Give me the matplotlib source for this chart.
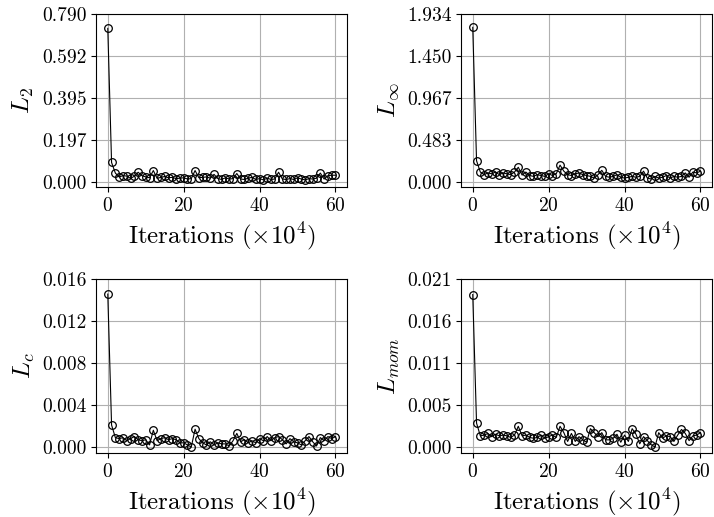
import numpy as np
import matplotlib
matplotlib.use("Agg")
import matplotlib.pyplot as plt
from matplotlib.ticker import FormatStrFormatter

# ── Dados (leitura aproximada da figura) ────────────────────
iteracoes = list(range(61))

l2 = [0.722, 0.090, 0.040, 0.022, 0.028, 0.026, 0.015, 0.025, 0.044, 0.028,
      0.022, 0.018, 0.052, 0.015, 0.020, 0.024, 0.018, 0.020, 0.014, 0.016,
      0.018, 0.012, 0.014, 0.052, 0.018, 0.020, 0.022, 0.016, 0.034, 0.014,
      0.010, 0.018, 0.012, 0.014, 0.038, 0.012, 0.010, 0.016, 0.020, 0.010,
      0.014, 0.008, 0.016, 0.010, 0.012, 0.044, 0.012, 0.010, 0.014, 0.010,
      0.018, 0.012, 0.008, 0.014, 0.012, 0.016, 0.040, 0.012, 0.028, 0.030,
      0.030]

linf = [1.78, 0.24, 0.11, 0.08, 0.10, 0.09, 0.11, 0.08, 0.10, 0.09,
        0.08, 0.11, 0.165, 0.075, 0.11, 0.07, 0.06, 0.08, 0.07, 0.06,
        0.09, 0.07, 0.09, 0.19, 0.12, 0.08, 0.07, 0.09, 0.10, 0.08,
        0.07, 0.06, 0.04, 0.08, 0.13, 0.06, 0.05, 0.06, 0.08, 0.05,
        0.04, 0.05, 0.06, 0.05, 0.06, 0.12, 0.04, 0.03, 0.06, 0.04,
        0.05, 0.07, 0.04, 0.06, 0.05, 0.06, 0.10, 0.05, 0.11, 0.10,
        0.12]

lc = [0.0146, 0.0021, 0.0009, 0.0008, 0.0009, 0.0006, 0.0008, 0.0010, 0.0007, 0.0006,
      0.0007, 0.0002, 0.0016, 0.0006, 0.0008, 0.0009, 0.0007, 0.0008, 0.0007, 0.0004,
      0.0004, 0.0002, 0.0000, 0.0017, 0.0008, 0.0004, 0.0002, 0.0005, 0.0002, 0.0004,
      0.0003, 0.0003, 0.0001, 0.0006, 0.0013, 0.0005, 0.0007, 0.0004, 0.0006, 0.0004,
      0.0008, 0.0006, 0.0010, 0.0006, 0.0009, 0.0010, 0.0007, 0.0003, 0.0008, 0.0005,
      0.0004, 0.0002, 0.0006, 0.0010, 0.0005, 0.0001, 0.0009, 0.0006, 0.0010, 0.0008,
      0.0010]

lmom = [0.0191, 0.0030, 0.0014, 0.0015, 0.0017, 0.0013, 0.0016, 0.0014, 0.0015, 0.0014,
        0.0012, 0.0015, 0.0026, 0.0014, 0.0015, 0.0012, 0.0011, 0.0012, 0.0015, 0.0011,
        0.0013, 0.0015, 0.0012, 0.0026, 0.0018, 0.0007, 0.0017, 0.0007, 0.0013, 0.0009,
        0.0006, 0.0023, 0.0018, 0.0013, 0.0018, 0.0009, 0.0009, 0.0011, 0.0016, 0.0006,
        0.0015, 0.0007, 0.0023, 0.0016, 0.0004, 0.0013, 0.0008, 0.0003, 0.0000, 0.0018,
        0.0011, 0.0014, 0.0013, 0.0007, 0.0015, 0.0022, 0.0017, 0.0008, 0.0014, 0.0015,
        0.0018]

series = [l2, linf, lc, lmom]
rotulos_y = [r"$L_2$", r"$L_\infty$", r"$L_c$", r"$L_{mom}$"]
topos_y = [0.7898, 1.934, 0.016, 0.021]

# ── Estilo ───────────────────────────────────────────────────
plt.rcParams["font.family"] = "serif"
plt.rcParams["font.serif"] = ["cmr10"]
plt.rcParams["mathtext.fontset"] = "cm"
plt.rcParams["axes.formatter.use_mathtext"] = True
plt.rcParams["axes.unicode_minus"] = False
plt.rcParams["font.size"] = 14

fig, axes = plt.subplots(2, 2, figsize=(7.14, 5.17), dpi=100)

for ax, y, rotulo, topo in zip(axes.flat, series, rotulos_y, topos_y):
    ax.plot(iteracoes, y, color="black", linewidth=0.8, marker="o",
            markersize=5.5, markerfacecolor="none", markeredgecolor="black",
            markeredgewidth=0.9)
    ax.set_ylim(-0.035 * topo, topo)
    ax.set_yticks(np.linspace(0, topo, 5))
    ax.yaxis.set_major_formatter(FormatStrFormatter("%.3f"))
    ax.set_xticks([0, 20, 40, 60])
    ax.grid(True, color="#b0b0b0", linewidth=0.8)
    ax.set_axisbelow(True)
    ax.set_ylabel(rotulo, fontsize=18)
    ax.set_xlabel(r"Iterations ($\times 10^4$)", fontsize=18)

plt.subplots_adjust(left=0.135, right=0.997, top=0.973, bottom=0.124,
                    wspace=0.457, hspace=0.53)
plt.savefig("out.png", dpi=100)
plt.close()
